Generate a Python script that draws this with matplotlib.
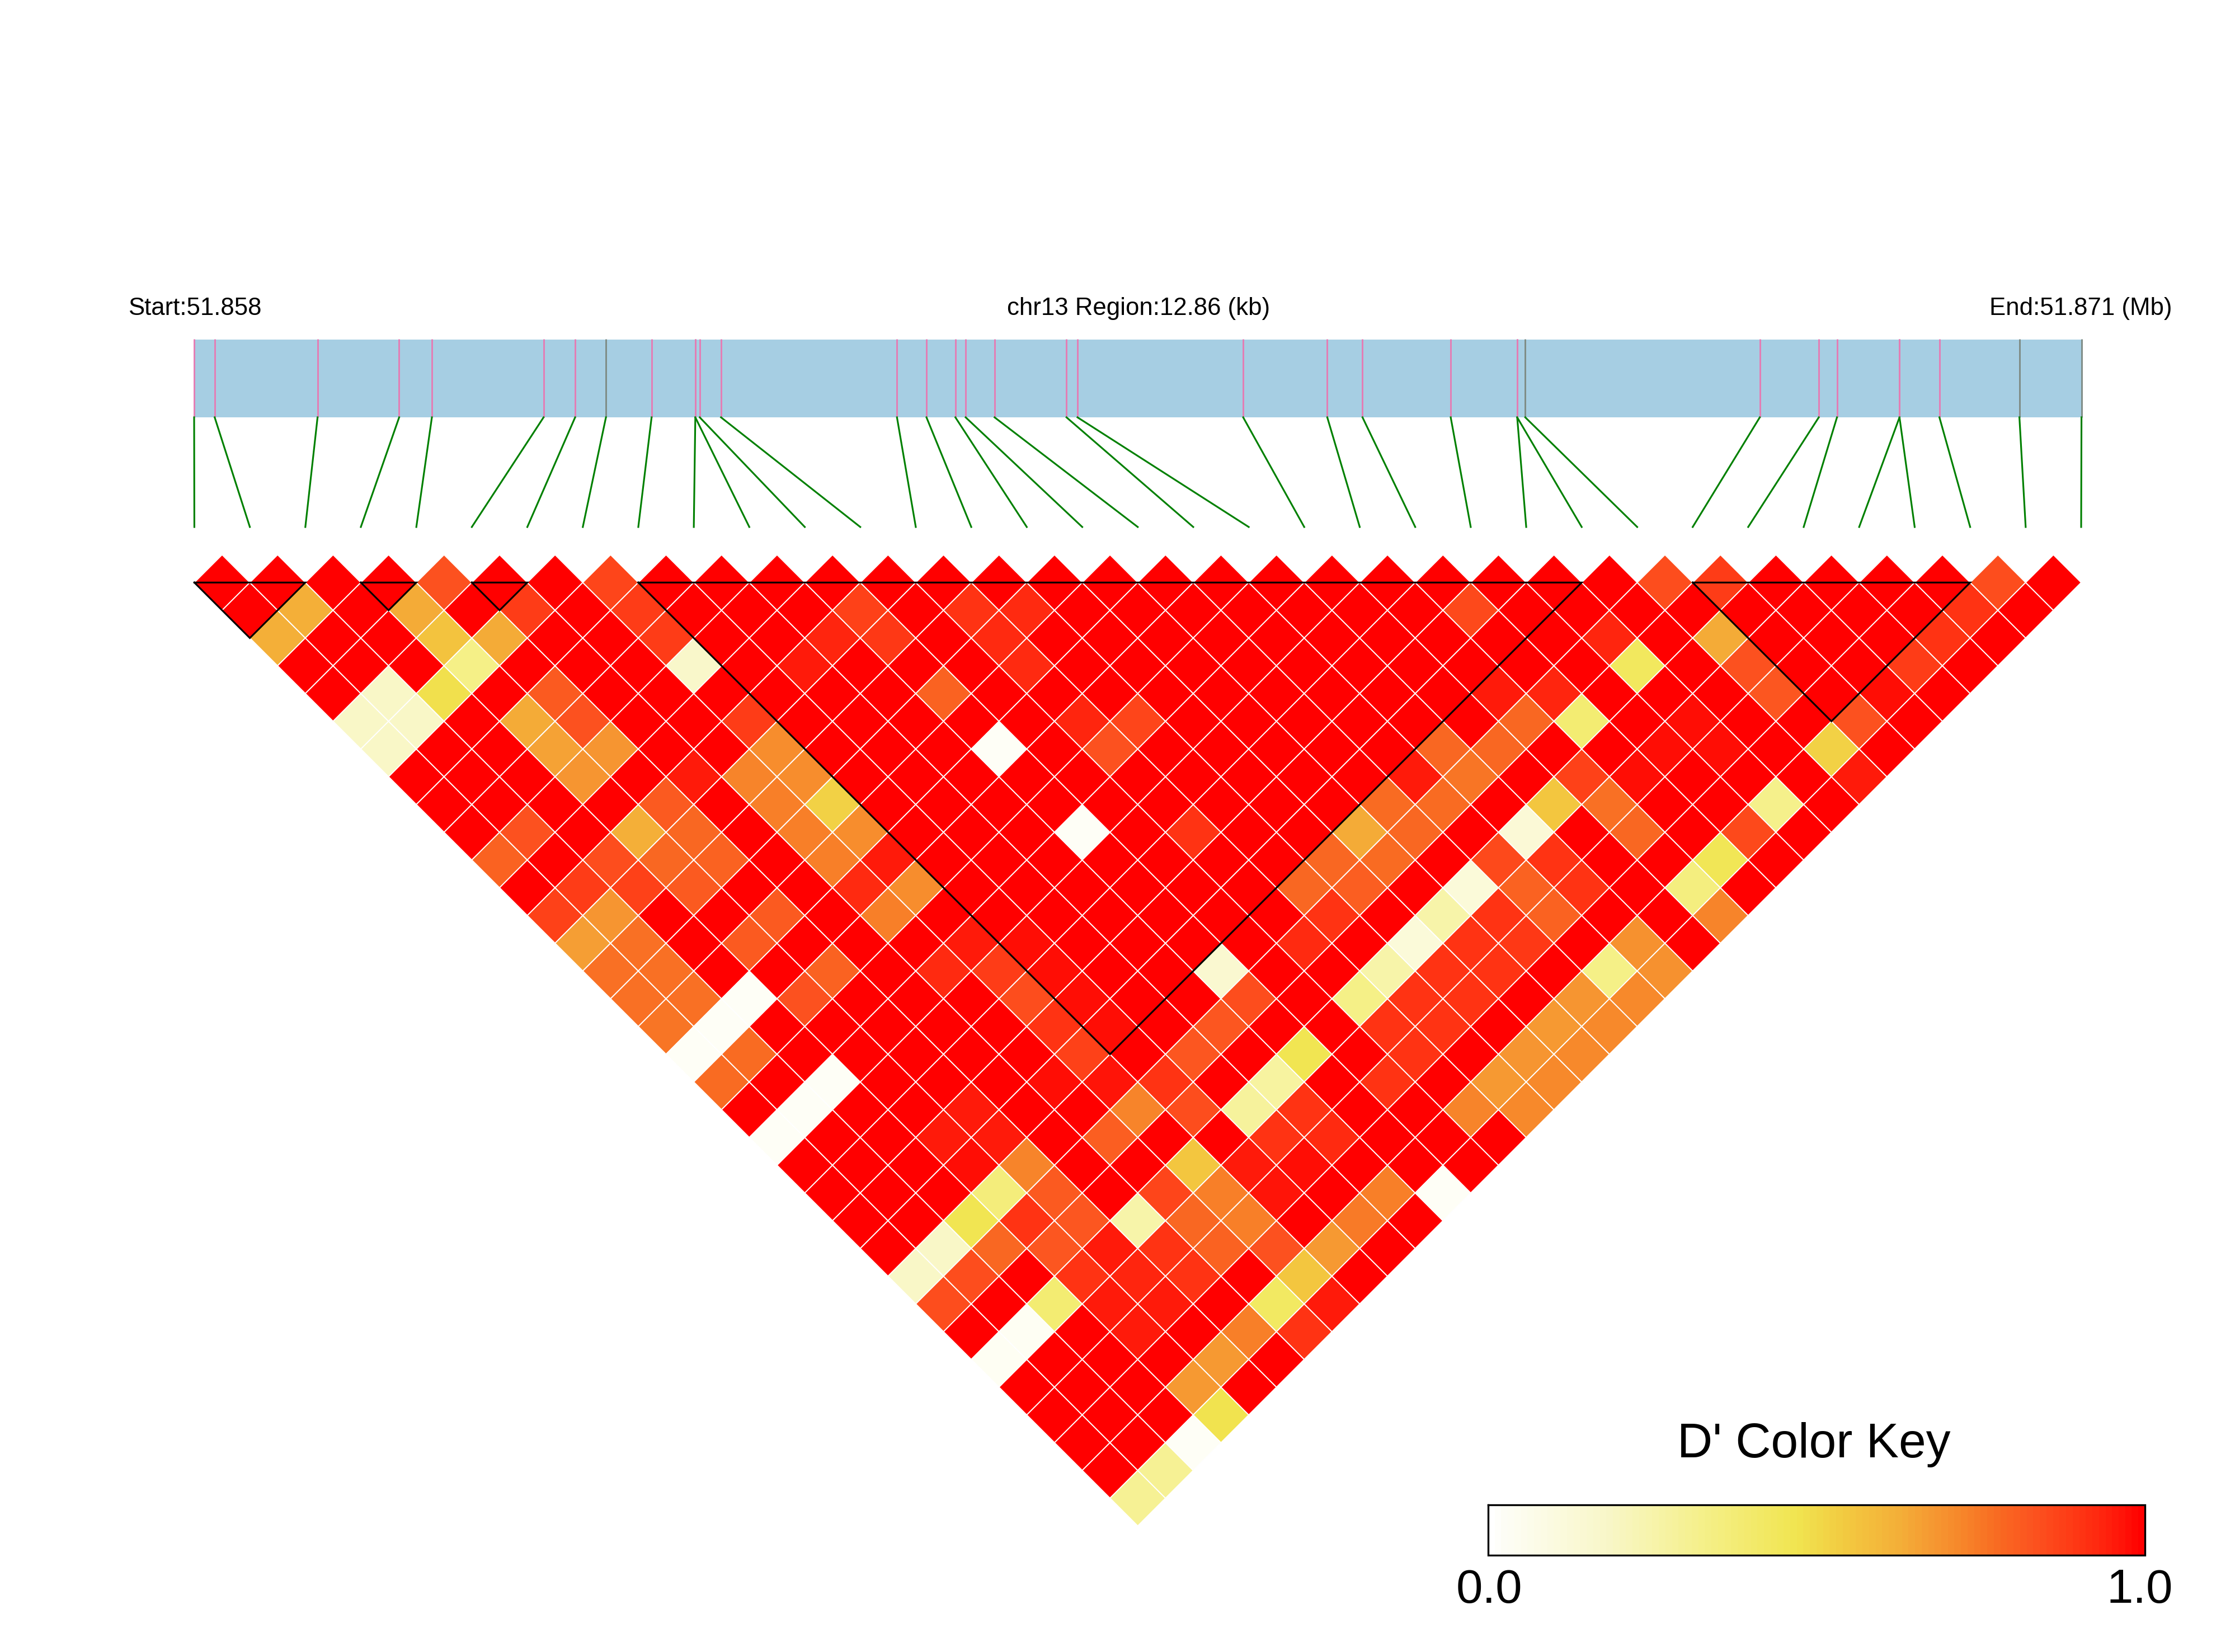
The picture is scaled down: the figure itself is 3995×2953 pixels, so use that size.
import numpy as np
import matplotlib
matplotlib.use("Agg")
import matplotlib.pyplot as plt
from matplotlib.collections import PolyCollection
from matplotlib.colors import LinearSegmentedColormap, Normalize

plt.rcParams['font.family'] = ['Liberation Sans', 'DejaVu Sans']

# snp positions along the region, kb from start
snp_kb = [0.000, 0.140, 0.841, 1.397, 1.620, 2.381, 2.596, 2.806, 3.117, 3.415,
          3.415, 3.445, 3.590, 4.789, 4.990, 5.187, 5.257, 5.454, 5.944, 6.019,
          7.148, 7.721, 7.961, 8.562, 9.015, 9.015, 9.070, 10.668, 11.070, 11.194,
          11.620, 11.620, 11.892, 12.437, 12.860]
gray_snps = [7, 26, 33, 34]
region_kb = 12.86

# haplotype blocks (first snp, last snp)
blocks = [(0, 2), (3, 4), (5, 6), (8, 25), (27, 32)]

# D' of every pair that is not 1.0: (snp a, snp b, D')
low_cells = [
    (4, 5, .83), (7, 8, .86), (1, 3, .62), (0, 3, .62), (3, 5, .63), (3, 6, .56),
    (4, 7, .63), (3, 7, .33), (2, 7, .48), (5, 7, .88), (7, 9, .88), (7, 10, .88),
    (7, 11, .17), (10, 13, .93), (9, 13, .95), (1, 6, .18), (0, 6, .18), (1, 7, .18),
    (0, 7, .18), (4, 9, .81), (3, 9, .63), (4, 10, .83), (3, 10, .65), (4, 11, .68),
    (3, 11, .68), (7, 13, .88), (7, 14, .70), (6, 14, .72), (7, 15, .70), (7, 16, .52),
    (6, 15, .73), (5, 13, .95), (4, 13, .81), (3, 13, .62), (4, 14, .78), (3, 14, .78),
    (4, 15, .79), (3, 15, .81), (2, 13, .84), (1, 13, .88), (2, 14, .87), (0, 13, .87),
    (1, 14, .68), (0, 14, .66), (1, 15, .76), (0, 15, .76), (1, 16, .76), (0, 16, .76),
    (1, 17, .76), (0, 17, .75), (2, 18, .02), (1, 18, .02), (0, 18, .02), (1, 11, .83),
    (0, 11, .79), (6, 16, .73), (6, 17, .73), (4, 17, .81), (3, 17, .81), (4, 19, .79),
    (3, 19, .83), (11, 13, .87), (11, 14, .89), (13, 15, .90), (14, 16, .92), (13, 16, .92),
    (13, 17, .92), (11, 16, .79), (11, 18, .02), (13, 19, .93), (14, 20, .86), (13, 20, .83),
    (11, 21, .02), (13, 23, .90), (7, 17, .70), (7, 18, .95), (6, 18, .92), (7, 19, .70),
    (6, 19, .73), (7, 21, .95), (6, 21, .92), (7, 22, .88), (7, 23, .84), (8, 22, .97),
    (8, 23, .97), (8, 24, .97), (7, 24, .90), (8, 25, .97), (11, 26, .15), (11, 27, .84),
    (10, 27, .82), (13, 27, .92), (14, 26, .78), (15, 26, .78), (16, 26, .63), (17, 26, .77),
    (18, 26, .95), (19, 26, .78), (17, 27, .78), (18, 27, .77), (16, 27, .77), (15, 27, .80),
    (14, 27, .90), (15, 29, .12), (14, 29, .25), (13, 29, .33), (16, 29, .25), (17, 29, .12),
    (14, 30, .90), (15, 30, .90), (13, 30, .90), (14, 31, .90), (11, 29, .46), (26, 27, .84),
    (27, 28, .88), (32, 33, .84), (22, 24, .85), (31, 33, .90), (24, 27, .93), (26, 29, .63),
    (30, 33, .90), (24, 28, .43), (26, 30, .83), (29, 33, .88), (21, 26, .95), (22, 27, .93),
    (26, 31, .82), (28, 33, .97), (21, 27, .78), (22, 28, .38), (24, 30, .97), (27, 33, .83),
    (20, 27, .78), (23, 30, .97), (24, 31, .97), (26, 33, .52), (19, 27, .75), (21, 29, .87),
    (22, 30, .97), (26, 34, .95), (20, 29, .55), (21, 30, .76), (24, 33, .32), (19, 29, .13),
    (21, 31, .78), (23, 33, .85), (18, 29, .85), (19, 30, .90), (22, 33, .45), (18, 30, .79),
    (19, 31, .90), (21, 33, .35), (17, 30, .90), (18, 31, .79), (21, 34, .72), (16, 30, .90),
    (17, 31, .89), (19, 33, .69), (16, 31, .90), (18, 33, .33), (19, 34, .69), (15, 31, .90),
    (17, 33, .68), (18, 34, .71), (16, 33, .67), (17, 34, .71), (9, 27, .82), (8, 27, .90),
    (7, 27, .72), (8, 28, .84), (10, 29, .27), (9, 29, .28), (9, 30, .90), (10, 30, .90),
    (13, 31, .90), (10, 31, .92), (15, 33, .68), (14, 33, .67), (13, 33, .72), (16, 34, .71),
    (15, 34, .71), (14, 34, .71), (11, 34, .02), (10, 33, .73), (9, 33, .74), (8, 33, .67),
    (7, 33, .55), (6, 33, .42), (5, 33, .73), (4, 33, .67), (3, 33, .67), (3, 34, .47),
    (2, 34, .02), (1, 34, .30), (0, 34, .30), (6, 34, .90), (7, 34, .95), (7, 29, .55),
    (7, 30, .73), (6, 30, .78), (6, 29, .86), (7, 31, .73), (6, 31, .79), (5, 30, .90),
    (5, 31, .90), (5, 29, .25), (7, 32, .83), (4, 31, .95), (4, 30, .93), (3, 31, .95),
    (8, 30, .95), (8, 31, .96), (9, 31, .97), (6, 27, .80), (1, 19, .77), (0, 19, .77),
    (2, 21, .02), (1, 21, .02), (0, 21, .02), (7, 25, .87), (7, 26, .96), (4, 26, .72),
    (3, 26, .36), (2, 26, .46), (1, 26, .18), (0, 26, .18), (2, 27, .78), (1, 27, .84),
    (0, 27, .84), (3, 27, .90), (4, 27, .81), (3, 28, .82), (4, 28, .82), (2, 29, .38),
    (1, 29, .03), (0, 29, .03), (3, 29, .90), (4, 29, .95), (3, 30, .95), (4, 24, .95),
    (3, 24, .95), (3, 25, .97), (4, 25, .95), (6, 25, .97), (12, 31, .90),
]

key_colors = [(0, '#FFFFFF'), (.02, '#FEFEF6'), (.18, '#F9F7C8'), (.33, '#F5F088'), (.47, '#F1E550'),
              (.55, '#F3C840'), (.63, '#F4AE38'), (.68, '#F69832'), (.72, '#F7882B'), (.78, '#F96A22'),
              (.83, '#FC5520'), (.88, '#FE4018'), (.93, '#FF2A10'), (.97, '#FF1408'), (1, '#FF0000')]

n = len(snp_kb)
dprime = np.ones((n, n))
for a, b, v in low_cells:
    dprime[a, b] = v

cmap = LinearSegmentedColormap.from_list('ld', key_colors, N=100)
norm = Normalize(0, 1)

# figure works in reference pixels
fig = plt.figure(figsize=(3995 / 300, 2953 / 300), dpi=300)
ax = fig.add_axes([0, 0, 1, 1])
ax.set_xlim(0, 3995)
ax.set_ylim(2953, 0)
ax.axis('off')

x_left, x_right = 347.4, 3720.0
step = (x_right - x_left) / (n - 1)
half = step / 2
y_top = 1041.3
bar_left, bar_right = 347.0, 3720.6
bar_top, bar_bottom = 607.0, 746.0
link_bottom = 942.0


def snp_x(kb):
    return bar_left + kb / region_kb * (bar_right - bar_left)


# gene bar
ax.fill_between([bar_left, bar_right], bar_top, bar_bottom, color='#A6CEE3', lw=0)
for k, kb in enumerate(snp_kb):
    col = '#7F8C85' if k in gray_snps else '#E47DB4'
    ax.plot([snp_x(kb)] * 2, [bar_top - 1, bar_bottom], color=col, lw=0.7, solid_capstyle='butt')
    ax.plot([snp_x(kb), x_left + k * step], [bar_bottom, link_bottom], color='#008000', lw=0.75)

# heatmap diamonds
polys = []
vals = []
for a in range(n):
    for b in range(a + 1, n):
        cx = x_left + (a + b) * half
        cy = y_top + (b - a - 1) * half
        polys.append([(cx - half, cy), (cx, cy - half), (cx + half, cy), (cx, cy + half)])
        vals.append(dprime[a, b])
cells = PolyCollection(polys, array=np.array(vals), cmap=cmap, norm=norm, edgecolors='white', linewidths=0.45)
ax.add_collection(cells)

# block outlines
for a, b in blocks:
    xa = x_left + a * step
    xb = x_left + b * step
    ax.plot([xa, xb, (xa + xb) / 2, xa], [y_top, y_top, y_top + (b - a) * half, y_top],
            color='black', lw=0.75, solid_joinstyle='miter')

# header text
ax.text(229, 563, 'Start:51.858', fontsize=10.5, ha='left', va='baseline')
ax.text(2035, 563, 'chr13 Region:12.86 (kb)', fontsize=10.5, ha='center', va='baseline')
ax.text(3883, 563, 'End:51.871 (Mb)', fontsize=10.5, ha='right', va='baseline')

# colour key
gradient = np.linspace(0, 1, 100)[None, :]
ax.imshow(gradient, cmap=cmap, norm=norm, extent=(2660, 3834, 2780, 2690), aspect='auto', interpolation='nearest')
ax.set_xlim(0, 3995)
ax.set_ylim(2953, 0)
ax.plot([2660, 3834, 3834, 2660, 2660], [2690, 2690, 2780, 2780, 2690], color='black', lw=0.8, solid_joinstyle='miter')
ax.text(3242, 2605, "D' Color Key", fontsize=21, ha='center', va='baseline')
ax.text(2662, 2865, '0.0', fontsize=20.5, ha='center', va='baseline')
ax.text(3825, 2865, '1.0', fontsize=20.5, ha='center', va='baseline')

fig.savefig('out.png', dpi=300, facecolor='white')
